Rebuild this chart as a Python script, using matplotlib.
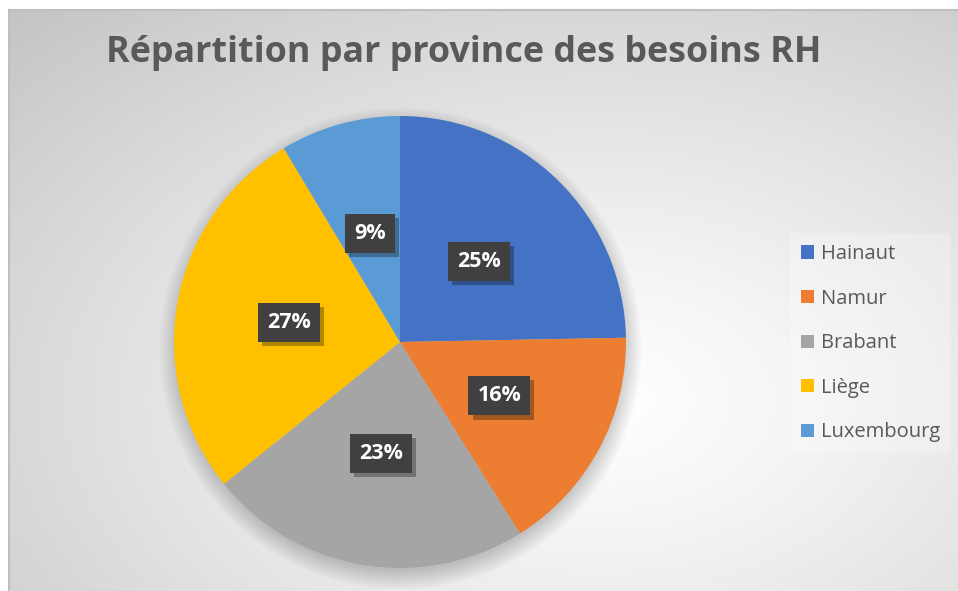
import numpy as np
import matplotlib
matplotlib.use('Agg')
import matplotlib.pyplot as plt
from matplotlib import patheffects as pe

provinces = ['Hainaut', 'Namur', 'Brabant', 'Liège', 'Luxembourg']
parts = [24.7, 16.4, 23.1, 27.2, 8.6]
colors = ['#4472C4', '#ED7D31', '#A5A5A5', '#FFC000', '#5B9BD5']
title = 'Répartition par province des besoins RH'

W, H = 958, 591
plt.rcParams['font.family'] = ['Open Sans', 'DejaVu Sans']
plt.rcParams['hatch.color'] = '#4c4c4c'
plt.rcParams['hatch.linewidth'] = 1.2

fig = plt.figure(figsize=(W / 100, H / 100), dpi=100)
fig.patch.set_facecolor('white')

# fond : dégradé radial + ombre du camembert
bg_ax = fig.add_axes([0, 0, 1, 1])
yy, xx = np.mgrid[0:H, 0:W]
d = np.sqrt(((xx - 600) / 750) ** 2 + ((yy - 400) / 480) ** 2)
val = 1 - 0.2 * d ** 1.2
cx, cy, R = 400, 342, 226
dist = np.sqrt((xx - cx) ** 2 + (yy - (cy + 6)) ** 2)
shadow = 0.2 * np.clip(1 - (dist - R + 4) / 20, 0, 1)
val = val * (1 - shadow)
img = np.dstack([val, val, val])
img[:10, :] = 1
img[:, :9] = 1
bg_ax.imshow(img, extent=(0, W, H, 0), interpolation='bilinear')
bg_ax.plot([9, W], [10, 10], color='#bfbfbf', lw=1.5)
bg_ax.plot([9, 9], [10, H], color='#bfbfbf', lw=1.5)
bg_ax.set_xlim(0, W)
bg_ax.set_ylim(H, 0)
bg_ax.axis('off')

ax = fig.add_axes([(cx - R) / W, (H - cy - R) / H, 2 * R / W, 2 * R / H])
wedges, texts, autotexts = ax.pie(
    parts, colors=colors, startangle=90, counterclock=False,
    autopct=lambda p: f'{p:.0f}%', pctdistance=0.5,
    wedgeprops=dict(linewidth=0),
    textprops=dict(color='white', fontsize=15.5, fontweight='bold'))
ax.set_xlim(-1, 1)
ax.set_ylim(-1, 1)
ax.set_aspect('auto')

for t in autotexts:
    t.set_bbox(dict(boxstyle='square,pad=0.42', facecolor='#404040',
                    edgecolor='none', hatch='..'))
    t.get_bbox_patch().set_path_effects([
        pe.SimplePatchShadow(offset=(3, -3), shadow_rgbFace='black', alpha=0.3),
        pe.Normal()])

fig.text(464 / W, 1 - 53 / H, title, ha='center', va='center',
         fontsize=25.8, fontweight='bold', color='#595959')

leg = fig.legend(wedges, provinces, loc='upper left',
                 bbox_to_anchor=(790 / W, 1 - 233 / H),
                 frameon=True, fontsize=14.5, labelcolor='#595959',
                 handlelength=0.62, handleheight=0.62, handletextpad=0.35,
                 labelspacing=1.22, borderpad=0.55, borderaxespad=0,
                 fancybox=False)
leg.get_frame().set_facecolor('white')
leg.get_frame().set_alpha(0.25)
leg.get_frame().set_edgecolor('none')

fig.savefig('out.png', dpi=100)
